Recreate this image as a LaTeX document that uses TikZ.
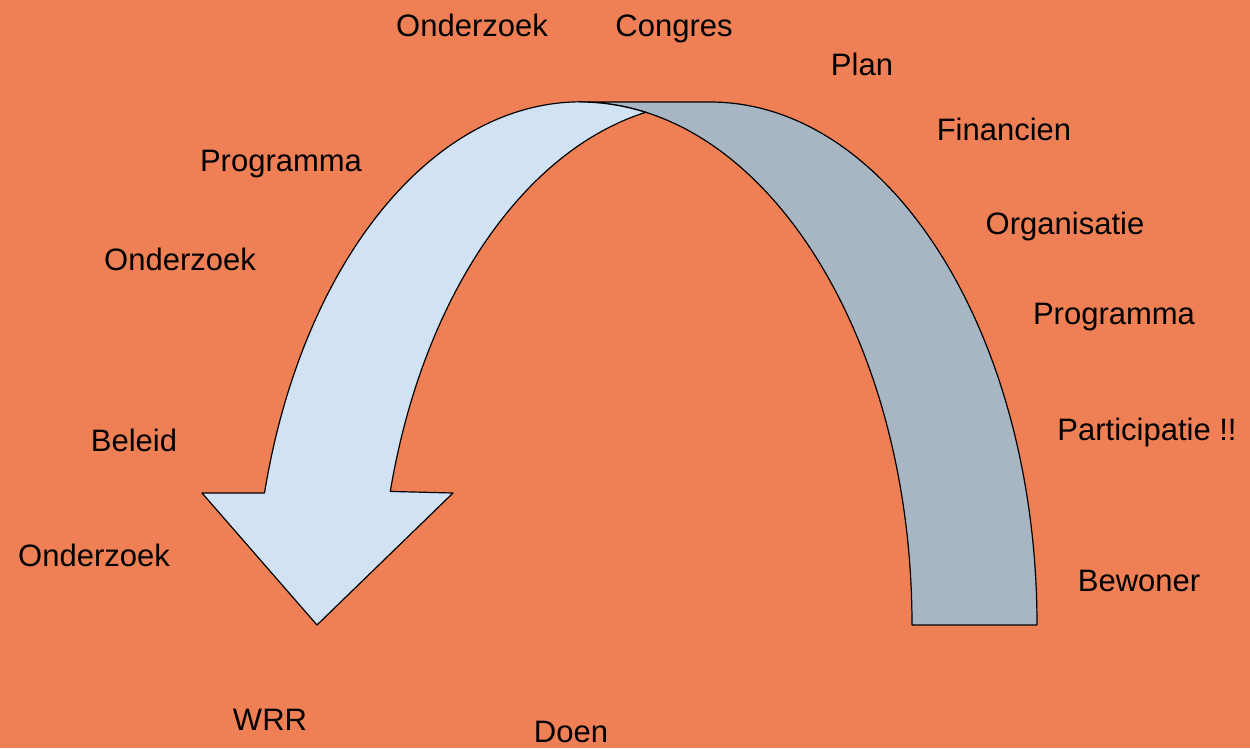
\documentclass[tikz,border=0pt]{standalone}
\usepackage{fontspec}
\setmainfont{Liberation Sans}
\definecolor{bgorange}{HTML}{EF8056}
\definecolor{frontblue}{HTML}{D0E2F3}
\definecolor{backgray}{HTML}{A7B6C2}
\begin{document}
\begin{tikzpicture}[x=1pt,y=-1pt,
    lbl/.style={inner sep=0pt,text height=22.2pt,text depth=0pt,
      font=\fontsize{31}{37}\selectfont},
    band/.style={draw=black,line width=1.2pt,line join=round}]
  \fill[bgorange] (0,0) rectangle (1250,748);

  % back part of the ribbon
  \path[band,fill=backgray] (912,625) -- (1037,625)
    arc[start angle=0,end angle=-90,x radius=327,y radius=523]
    -- (580,102)
    arc[start angle=-90,end angle=0,x radius=332,y radius=523] -- cycle;

  % front part with the arrow head
  \path[band,fill=frontblue] (264.5,493)
    arc[start angle=194.6,end angle=270,x radius=327,y radius=523]
    -- (580,102)
    arc[start angle=-90,end angle=-78.6,x radius=332,y radius=523]
    arc[start angle=258.6,end angle=194.8,x radius=332,y radius=523]
    -- (453,493) -- (317,625) -- (202,493) -- cycle;

  \node[lbl] (onderzoekTop) at (472,25.5) {Onderzoek};
  \node[lbl] (congres) at (674,25.5) {Congres};
  \node[lbl] (plan) at (862,64) {Plan};
  \node[lbl] (financien) at (1004,129.5) {Financien};
  \node[lbl] (organisatie) at (1065,223) {Organisatie};
  \node[lbl] (programmaR) at (1114,313) {Programma};
  \node[lbl] (participatie) at (1147,429) {Participatie !!};
  \node[lbl] (bewoner) at (1139,580) {Bewoner};
  \node[lbl] (programmaL) at (281,160) {Programma};
  \node[lbl] (onderzoekMid) at (180,259) {Onderzoek};
  \node[lbl] (beleid) at (134,440) {Beleid};
  \node[lbl] (onderzoekLow) at (94,555) {Onderzoek};
  \node[lbl] (wrr) at (270,719) {WRR};
  \node[lbl] (doen) at (571,731) {Doen};
\end{tikzpicture}
\end{document}
